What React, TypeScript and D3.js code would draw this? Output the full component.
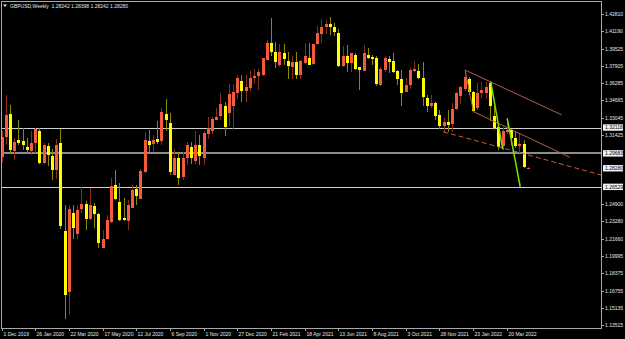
import React, { useEffect } from "react";
import * as d3 from "d3";

// ---- data ----
const title = "GBPUSD,Weekly  1.28242 1.28398 1.28242 1.28280";

const opens = [
  1.2930, 1.3120, 1.3335, 1.2995, 1.3090, 1.3085, 1.3030, 1.2990, 1.3070, 1.3175,
  1.2880, 1.3035, 1.2945, 1.2815, 1.3065, 1.2240, 1.1660, 1.2410, 1.2210, 1.2445,
  1.2490, 1.2350, 1.2470, 1.2400, 1.2080, 1.2165, 1.2320, 1.2670, 1.2510, 1.2355,
  1.2330, 1.2455, 1.2630, 1.2540, 1.2790, 1.3085, 1.3055, 1.3100, 1.3085, 1.3340,
  1.3255, 1.2765, 1.2925, 1.2750, 1.2920, 1.3025, 1.2895, 1.3050, 1.2925, 1.3155,
  1.3175, 1.3285, 1.3320, 1.3410, 1.3345, 1.3410, 1.3535, 1.3650, 1.3555, 1.3580,
  1.3675, 1.3700, 1.3705, 1.3850, 1.4010, 1.3925, 1.3805, 1.3915, 1.3840, 1.3780,
  1.3825, 1.3705, 1.3815, 1.3870, 1.3810, 1.3995, 1.4090, 1.4155, 1.4185, 1.4160,
  1.4105, 1.3790, 1.3885, 1.3815, 1.3895, 1.3780, 1.3745, 1.3895, 1.3880, 1.3865,
  1.3610, 1.3755, 1.3860, 1.3840, 1.3745, 1.3665, 1.3550, 1.3610, 1.3745, 1.3745,
  1.3675, 1.3490, 1.3410, 1.3445, 1.3330, 1.3230, 1.3265, 1.3245, 1.3385, 1.3510,
  1.3570, 1.3670, 1.3550, 1.3395, 1.3535, 1.3535, 1.3630, 1.3320, 1.3220, 1.3040,
  1.3170, 1.3185, 1.3110, 1.3035, 1.3060, 1.28242,
];
const highs = [
  1.3180, 1.3515, 1.3425, 1.3110, 1.3285, 1.3210, 1.3115, 1.3175, 1.3210, 1.3210,
  1.3070, 1.3070, 1.3010, 1.3100, 1.3200, 1.2480, 1.2485, 1.2485, 1.2485, 1.2650,
  1.2515, 1.2645, 1.2500, 1.2410, 1.2245, 1.2385, 1.2735, 1.2815, 1.2690, 1.2545,
  1.2530, 1.2670, 1.2670, 1.2820, 1.3170, 1.3185, 1.3140, 1.3270, 1.3395, 1.3485,
  1.3350, 1.3010, 1.2980, 1.2980, 1.3080, 1.3080, 1.3175, 1.3140, 1.3180, 1.3315,
  1.3310, 1.3400, 1.3540, 1.3450, 1.3625, 1.3625, 1.3705, 1.3705, 1.3710, 1.3745,
  1.3760, 1.3760, 1.3865, 1.4040, 1.4240, 1.4015, 1.4000, 1.4000, 1.3925, 1.3890,
  1.3920, 1.3845, 1.4010, 1.4005, 1.4000, 1.4165, 1.4235, 1.4220, 1.4250, 1.4200,
  1.4135, 1.3975, 1.3985, 1.3915, 1.3910, 1.3785, 1.3985, 1.3960, 1.3895, 1.3890,
  1.3785, 1.3890, 1.3890, 1.3910, 1.3750, 1.3750, 1.3675, 1.3775, 1.3835, 1.3810,
  1.3825, 1.3515, 1.3515, 1.3450, 1.3375, 1.3300, 1.3375, 1.3440, 1.3545, 1.3600,
  1.3750, 1.3685, 1.3555, 1.3630, 1.3645, 1.3645, 1.3645, 1.3440, 1.3235, 1.3215,
  1.3300, 1.3200, 1.3165, 1.3150, 1.3090, 1.28398,
];
const lows = [
  1.2880, 1.3050, 1.2975, 1.2905, 1.3045, 1.3000, 1.2970, 1.2955, 1.2975, 1.2870,
  1.2870, 1.2850, 1.2715, 1.2725, 1.2260, 1.1410, 1.1450, 1.2160, 1.2165, 1.2405,
  1.2245, 1.2345, 1.2265, 1.2080, 1.2075, 1.2160, 1.2315, 1.2530, 1.2335, 1.2330,
  1.2250, 1.2450, 1.2480, 1.2535, 1.2780, 1.2980, 1.2990, 1.3055, 1.3050, 1.3175,
  1.2760, 1.2760, 1.2675, 1.2720, 1.2860, 1.2865, 1.2865, 1.2855, 1.2855, 1.3105,
  1.3150, 1.3280, 1.3285, 1.3135, 1.3225, 1.3190, 1.3480, 1.3450, 1.3450, 1.3560,
  1.3620, 1.3565, 1.3700, 1.3845, 1.3890, 1.3775, 1.3780, 1.3805, 1.3670, 1.3670,
  1.3670, 1.3670, 1.3810, 1.3805, 1.3800, 1.3990, 1.4010, 1.4090, 1.4080, 1.4075,
  1.3785, 1.3785, 1.3730, 1.3730, 1.3755, 1.3565, 1.3740, 1.3860, 1.3800, 1.3600,
  1.3600, 1.3730, 1.3725, 1.3725, 1.3610, 1.3410, 1.3545, 1.3570, 1.3730, 1.3670,
  1.3415, 1.3355, 1.3395, 1.3280, 1.3195, 1.3160, 1.3165, 1.3170, 1.3375, 1.3430,
  1.3560, 1.3520, 1.3358, 1.3380, 1.3490, 1.3485, 1.3270, 1.3185, 1.3000, 1.3000,
  1.3150, 1.3050, 1.3020, 1.2975, 1.2830, 1.28242,
];
const closes = [
  1.3120, 1.3330, 1.3000, 1.3075, 1.3070, 1.3050, 1.3000, 1.3070, 1.3200, 1.2880,
  1.3045, 1.2955, 1.2815, 1.3045, 1.2285, 1.1635, 1.2445, 1.2265, 1.2435, 1.2490,
  1.2350, 1.2480, 1.2400, 1.2120, 1.2165, 1.2345, 1.2665, 1.2535, 1.2345, 1.2340,
  1.2485, 1.2620, 1.2565, 1.2800, 1.3090, 1.3050, 1.3095, 1.3075, 1.3355, 1.3280,
  1.2795, 1.2920, 1.2735, 1.2925, 1.3050, 1.2925, 1.3045, 1.2945, 1.3160, 1.3205,
  1.3290, 1.3315, 1.3435, 1.3220, 1.3525, 1.3550, 1.3675, 1.3560, 1.3590, 1.3675,
  1.3700, 1.3735, 1.3865, 1.4010, 1.3920, 1.3830, 1.3925, 1.3860, 1.3790, 1.3830,
  1.3705, 1.3840, 1.3885, 1.3805, 1.3995, 1.4100, 1.4155, 1.4190, 1.4155, 1.4115,
  1.3790, 1.3885, 1.3820, 1.3910, 1.3760, 1.3750, 1.3910, 1.3870, 1.3860, 1.3620,
  1.3760, 1.3865, 1.3830, 1.3730, 1.3665, 1.3540, 1.3610, 1.3755, 1.3760, 1.3675,
  1.3495, 1.3410, 1.3445, 1.3320, 1.3225, 1.3265, 1.3235, 1.3385, 1.3535, 1.3590,
  1.3685, 1.3550, 1.3365, 1.3535, 1.3565, 1.3595, 1.3410, 1.3205, 1.3025, 1.3180,
  1.3185, 1.3115, 1.3035, 1.3060, 1.2840, 1.28280,
];

const priceTicks = [
  1.4281, 1.4119, 1.39525, 1.37905, 1.36285, 1.34665, 1.33045, 1.31425,
  1.249, 1.2328, 1.2166, 1.19995, 1.18375, 1.16755, 1.15135, 1.13515,
];
const priceTickLabels = [
  "1.42810", "1.41190", "1.39525", "1.37905", "1.36285", "1.34665", "1.33045", "1.31425",
  "1.24900", "1.23280", "1.21660", "1.19995", "1.18375", "1.16755", "1.15135", "1.13515",
];

const markedPrices = [1.32118, 1.29683, 1.2828, 1.26529];
const markedLabels = ["1.32118", "1.29683", "1.28280", "1.26529"];

const hLinePrices = [1.32118, 1.29683, 1.26529];

const timeLabelBars = [0, 8, 16, 24, 32, 40, 48, 56, 64, 72, 80, 88, 96, 104, 112, 120];
const timeLabels = [
  "1 Dec 2019", "26 Jan 2020", "22 Mar 2020", "17 May 2020", "12 Jul 2020", "6 Sep 2020",
  "1 Nov 2020", "27 Dec 2020", "21 Feb 2021", "18 Apr 2021", "13 Jun 2021", "8 Aug 2021",
  "3 Oct 2021", "28 Nov 2021", "23 Jan 2022", "20 Mar 2022",
];

// trendline objects: [barIndex, price] endpoints
const channelLines: [number, number][][] = [
  [[110.1, 1.3753], [133.1, 1.333]],
  [[112.1, 1.3361], [135.0, 1.2931]],
  [[110.1, 1.3753], [112.1, 1.3361]],
];
const dashedLine: [number, number][] = [[104.9, 1.3172], [142.4, 1.2765]];
const greenLines: [number, number][][] = [
  [[116.2, 1.3643], [119.05, 1.3007]],
  [[120.1, 1.3299], [123.2, 1.2654]],
];

// ---- layout ----
const W = 625;
const H = 339;
const plotL = 1;
const plotR = 601;
const plotT = 1;
const plotB = 328;

const FONT = "'Liberation Sans', Arial, sans-serif";

export default function App() {
  useEffect(() => {
    document.body.style.margin = "0";
    document.body.style.background = "#000";
  }, []);

  const n = opens.length;
  const x = d3.scaleLinear().domain([0, n - 1]).range([1.5, 527.8]);
  const y = d3.scaleLinear().domain([1.13235, 1.44034]).range([plotB, plotT]);

  const bullBody = "#f45a3e";
  const bullWick = "#8a2c1c";
  const bearBody = "#ffff00";
  const bearWick = "#8a8a00";
  const axisColor = "#a8a8a8";
  const textColor = "#e6e6e6";

  const lineGen = d3
    .line<[number, number]>()
    .x((d) => x(d[0]))
    .y((d) => y(d[1]));

  return (
    <svg
      width={W}
      height={H}
      style={{ position: "absolute", left: 0, top: 0, display: "block" }}
      fontFamily={FONT}
    >
      <defs>
        <clipPath id="plotClip">
          <rect x={plotL} y={plotT} width={plotR - plotL} height={plotB - plotT} />
        </clipPath>
      </defs>
      <rect x={0} y={0} width={W} height={H} fill="#000" />

      {/* horizontal level lines */}
      {hLinePrices.map((p, i) => (
        <line
          key={"h" + i}
          x1={plotL}
          x2={plotR}
          y1={Math.round(y(p)) + (i === 1 ? 0 : 0.5)}
          y2={Math.round(y(p)) + (i === 1 ? 0 : 0.5)}
          stroke={i === 1 ? "#8c8c8c" : "#cfcfcf"}
          strokeWidth={i === 1 ? 2 : 1}
          shapeRendering="crispEdges"
        />
      ))}

      {/* candles */}
      <g clipPath="url(#plotClip)">
        {opens.map((o, i) => {
          const c = closes[i];
          const bull = c >= o;
          const cx = Math.round(x(i));
          const top = y(Math.max(o, c));
          const bot = y(Math.min(o, c));
          return (
            <g key={i} shapeRendering="crispEdges">
              <line
                x1={cx + 0.5}
                x2={cx + 0.5}
                y1={y(highs[i])}
                y2={y(lows[i])}
                stroke={bull ? bullWick : bearWick}
                strokeWidth={1}
              />
              <rect
                x={cx - 1}
                y={top}
                width={3}
                height={Math.max(1, bot - top)}
                fill={bull ? bullBody : bearBody}
              />
            </g>
          );
        })}
      </g>

      {/* trendlines */}
      <g clipPath="url(#plotClip)" fill="none">
        {channelLines.map((seg, i) => (
          <path key={"c" + i} d={lineGen(seg) || ""} stroke="#b0604a" strokeWidth={1} />
        ))}
        <path d={lineGen(dashedLine) || ""} stroke="#c0603c" strokeWidth={1} strokeDasharray="5,3" />
        {greenLines.map((seg, i) => (
          <path key={"g" + i} d={lineGen(seg) || ""} stroke="#7ee000" strokeWidth={1.5} />
        ))}
      </g>

      {/* frame */}
      <g shapeRendering="crispEdges" stroke={axisColor} strokeWidth={1}>
        <line x1={plotL + 0.5} x2={plotL + 0.5} y1={plotT} y2={plotB + 0.5} />
        <line x1={plotL} x2={plotR + 0.5} y1={plotT + 0.5} y2={plotT + 0.5} />
        <line x1={plotR + 0.5} x2={plotR + 0.5} y1={plotT} y2={plotB + 0.5} />
        <line x1={plotL} x2={plotR + 0.5} y1={plotB + 0.5} y2={plotB + 0.5} />
      </g>

      {/* price axis */}
      {priceTicks.map((p, i) => {
        const yy = Math.round(y(p)) + 0.5;
        return (
          <g key={"pt" + i}>
            <line x1={plotR} x2={plotR + 3} y1={yy} y2={yy} stroke={axisColor} shapeRendering="crispEdges" />
            <text x={plotR + 4} y={yy + 1.8} fontSize={5} fill={textColor}>
              {priceTickLabels[i]}
            </text>
          </g>
        );
      })}
      {markedPrices.map((p, i) => {
        const yy = y(p);
        return (
          <g key={"mp" + i}>
            <rect x={plotR + 2} y={yy - 3.2} width={20} height={6.4} fill="#f2f2f2" />
            <text x={plotR + 4} y={yy + 1.8} fontSize={5} fill="#000">
              {markedLabels[i]}
            </text>
          </g>
        );
      })}

      {/* time axis */}
      {timeLabelBars.map((b, i) => {
        const xx = Math.round(x(b)) + 0.5;
        return (
          <g key={"tt" + i}>
            <line x1={xx} x2={xx} y1={plotB} y2={plotB + 3} stroke={axisColor} shapeRendering="crispEdges" />
            <text x={xx + 1} y={335.5} fontSize={5} fill={textColor}>
              {timeLabels[i]}
            </text>
          </g>
        );
      })}

      {/* title */}
      <path d="M3,4.5 L7,4.5 L5,7 Z" fill="#e6e6e6" />
      <text x={10} y={7.5} fontSize={5} fill={textColor} style={{ whiteSpace: "pre" }}>
        {title}
      </text>
    </svg>
  );
}
